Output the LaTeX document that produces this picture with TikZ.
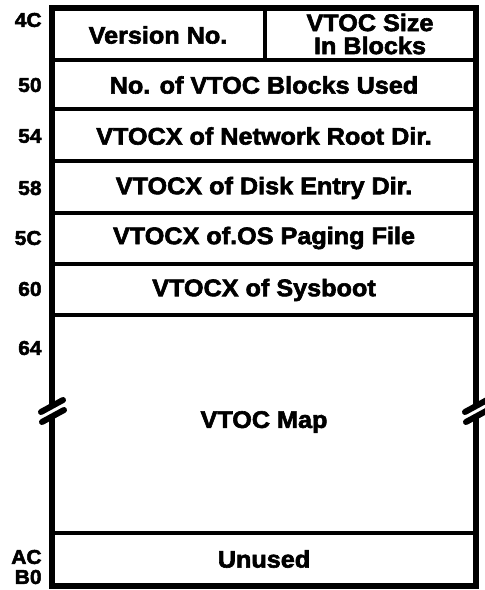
\documentclass[tikz,border=0pt]{standalone}
\usepackage{fontspec}
\newfontfamily\fieldfont[FakeBold=2.5, FakeStretch=1.05]{Liberation Sans Bold}
\usepackage{tikz}
\usetikzlibrary{positioning}

\begin{document}
\begin{tikzpicture}[x=0.5pt, y=-0.5pt,
    field/.style={font=\fieldfont\fontsize{12}{11.5}\selectfont, align=center, inner sep=0pt},
    offset/.style={font=\fieldfont\fontsize{10}{10}\selectfont, anchor=east, inner sep=0pt},
    frameline/.style={line width=2.6pt, black},
    rowline/.style={line width=1.6pt, black},
    breakmark/.style={line width=3pt, line cap=round}]
    \useasboundingbox (0,0) rectangle (484,590);
    % outer frame, broken on both sides
    \draw[frameline] (52,405) -- (52,8) -- (476,8) -- (476,405);
    \draw[frameline] (52,417) -- (52,586) -- (476,586) -- (476,417);
    \draw[breakmark] (41,412) -- (63,400);
    \draw[breakmark] (42,422) -- (64,410);
    \draw[breakmark] (465,412) -- (487,400);
    \draw[breakmark] (466,422) -- (488,410);
    % rows
    \draw[rowline] (265,8) -- (265,60);
    \draw[rowline] (52,60) -- (476,60);
    \draw[rowline] (52,109) -- (476,109);
    \draw[rowline] (52,161) -- (476,161);
    \draw[rowline] (52,213) -- (476,213);
    \draw[rowline] (52,264) -- (476,264);
    \draw[rowline] (52,315) -- (476,315);
    \draw[rowline] (52,533) -- (476,533);
    % fields
    \node[field] (version) at (158,35) {Version No.};
    \node[field] (vtocsize) at (370,34) {VTOC Size\\In Blocks};
    \node[field] (blocksused) at (264,85) {No. of VTOC Blocks Used};
    \node[field] (rootdir) at (264,136) {VTOCX of Network Root Dir.};
    \node[field] (diskentry) at (264,188) {VTOCX of Disk Entry Dir.};
    \node[field] (paging) at (264,238) {VTOCX of.OS Paging File};
    \node[field] (sysboot) at (264,290) {VTOCX of Sysboot};
    \node[field] (vtocmap) at (264,422) {VTOC Map};
    \node[field] (unused) at (264,559) {Unused};
    % offsets
    \node[offset] (o4c) at (42,20) {4C};
    \node[offset] (o50) at (42,85) {50};
    \node[offset] (o54) at (42,136) {54};
    \node[offset] (o58) at (42,188) {58};
    \node[offset] (o5c) at (42,238) {5C};
    \node[offset] (o60) at (42,289) {60};
    \node[offset] (o64) at (42,348) {64};
    \node[offset] (oac) at (42,557) {AC};
    \node[offset] (ob0) at (42,577) {B0};
\end{tikzpicture}
\end{document}
